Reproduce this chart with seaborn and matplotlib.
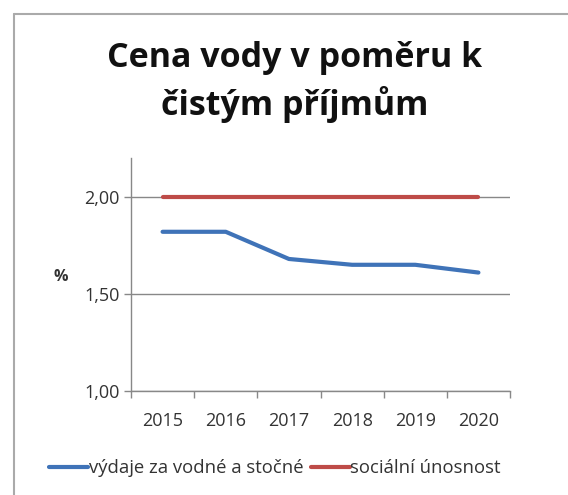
import seaborn as sns
import pandas as pd
import matplotlib.pyplot as plt
from matplotlib.lines import Line2D
from matplotlib.ticker import FixedLocator

# data
years = ["2015", "2016", "2017", "2018", "2019", "2020"]
vydaje = [1.82, 1.82, 1.68, 1.65, 1.65, 1.61]
unosnost = [2.00, 2.00, 2.00, 2.00, 2.00, 2.00]
series_names = ["výdaje za vodné a stočné", "sociální únosnost"]
colors = ["#3F73B8", "#BE4B48"]

df = pd.DataFrame({
    "rok": years * 2,
    "hodnota": vydaje + unosnost,
    "serie": [series_names[0]] * len(years) + [series_names[1]] * len(years),
})

sns.set_theme(style="white")
plt.rcParams["font.family"] = ["Open Sans", "DejaVu Sans"]

fig = plt.figure(figsize=(5.68, 4.95), dpi=100)
ax = fig.add_axes([131 / 568, 1 - 391 / 495, (510 - 131) / 568, (391 - 158) / 495])

sns.lineplot(data=df, x="rok", y="hodnota", hue="serie", palette=colors,
             hue_order=series_names, linewidth=3, ax=ax, legend=False, sort=False)

ax.set_ylim(1.0, 2.2)
ax.set_xlim(-0.5, len(years) - 0.5)
ax.set_yticks([1.0, 1.5, 2.0])
ax.set_yticklabels(["1,00", "1,50", "2,00"], fontsize=13, color="#333333")
ax.set_xticks(range(len(years)))
ax.set_xticklabels(years, fontsize=13, color="#333333")
ax.xaxis.set_minor_locator(FixedLocator([i - 0.5 for i in range(len(years) + 1)]))
ax.tick_params(axis="x", which="major", length=0, pad=15)
ax.tick_params(axis="x", which="minor", length=5, width=1, color="#888888", bottom=True)
ax.tick_params(axis="y", length=5, width=1, color="#888888", left=True, pad=3)
ax.set_xlabel("")
ax.set_ylabel("")
ax.grid(axis="y", color="#888888", linewidth=1)
ax.set_axisbelow(True)
for s in ["top", "right"]:
    ax.spines[s].set_visible(False)
for s in ["left", "bottom"]:
    ax.spines[s].set_color("#888888")
    ax.spines[s].set_linewidth(1)

fig.text(61 / 568, 1 - 277 / 495, "%", fontsize=11.5, fontweight="bold",
         ha="center", va="center", color="#333333")

fig.text(295 / 568, 1 - 67 / 495, "Cena vody v poměru k", fontsize=24.5,
         fontweight="bold", ha="center", va="baseline", color="#111111")
fig.text(295 / 568, 1 - 115 / 495, "čistým příjmům", fontsize=24.5,
         fontweight="bold", ha="center", va="baseline", color="#111111")

handles = [Line2D([], [], color=c, linewidth=3) for c in colors]
fig.legend(handles, series_names, loc="center", bbox_to_anchor=(275 / 568, 1 - 468 / 495),
           ncol=2, frameon=False, fontsize=13.3, handlelength=2.1, handletextpad=0.05,
           columnspacing=0.4, labelcolor="#333333")

# chart border (cut off at right and bottom)
fig.add_artist(Line2D([14 / 568, 1.0], [1 - 14 / 495] * 2, color="#AAAAAA", linewidth=1.5))
fig.add_artist(Line2D([14 / 568] * 2, [0.0, 1 - 14 / 495], color="#AAAAAA", linewidth=1.5))

fig.savefig("out.png", dpi=100)
